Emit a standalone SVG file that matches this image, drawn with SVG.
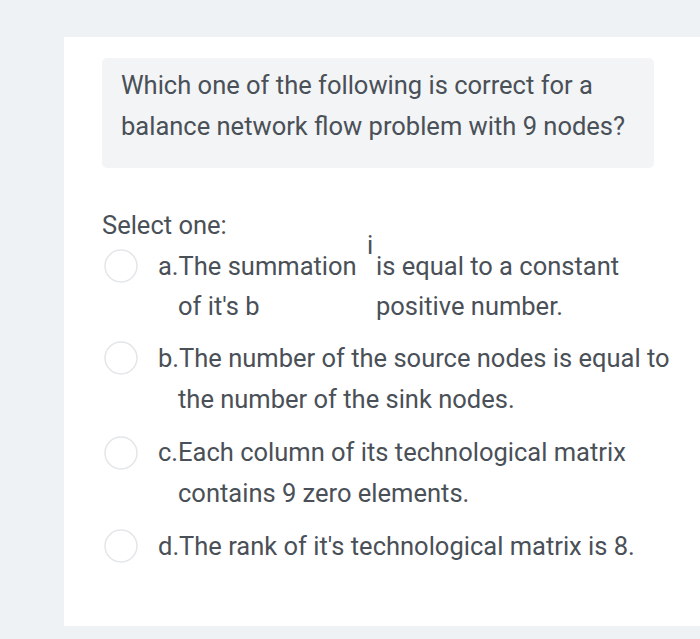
<svg xmlns="http://www.w3.org/2000/svg" width="700" height="639" viewBox="0 0 700 639">
<style>
text{font-family:Roboto,"Liberation Sans",sans-serif;fill:#4a5057;font-size:25.5px}
.r{fill:#fff;stroke:#e3e6e9;stroke-width:1.5}
</style>
<rect width="700" height="639" fill="#eff2f4"/>
<rect x="64" y="37" width="636" height="589" fill="#fff"/>
<rect x="102" y="58" width="552" height="110" rx="5" fill="#f2f4f6"/>
<text x="121" y="94">Which one of the following is correct for a</text>
<text x="121" y="135">balance network flow problem with 9 nodes?</text>
<text x="102" y="234">Select one:</text>
<g id="a"><circle class="r" cx="121" cy="266" r="16"/>
<text x="158" y="275">a.The summation</text><text x="367" y="254" font-size="13">i</text>
<text x="376" y="275">is equal to a constant</text>
<text x="178" y="315">of it's b</text><text x="376" y="315">positive number.</text></g>
<g id="b"><circle class="r" cx="121" cy="358" r="16"/>
<text x="158" y="367">b.The number of the source nodes is equal to</text>
<text x="178" y="408">the number of the sink nodes.</text></g>
<g id="c"><circle class="r" cx="121" cy="453" r="16"/>
<text x="158" y="461">c.Each column of its technological matrix</text>
<text x="178" y="502">contains 9 zero elements.</text></g>
<g id="d"><circle class="r" cx="121" cy="546" r="16"/>
<text x="158" y="555">d.The rank of it's technological matrix is 8.</text></g>
</svg>
